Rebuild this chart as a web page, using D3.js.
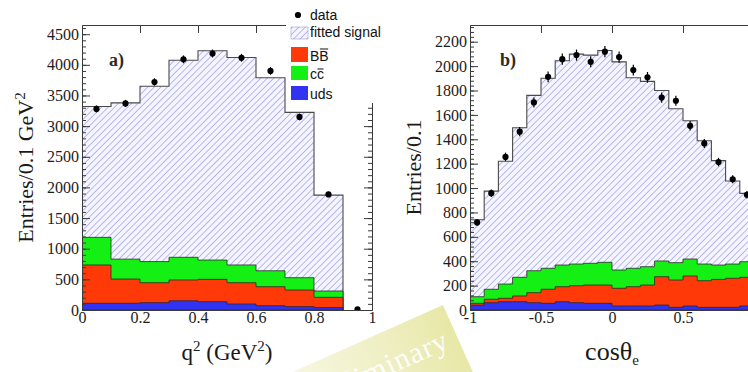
<!DOCTYPE html>
<html>
<head>
<script src="https://cdn.jsdelivr.net/npm/d3@7"></script>
<style>
	body { margin: 0; background: #fff; }
	svg text { font-family: "Liberation Serif", "Times New Roman", serif; }
	.tick text { font-size: 16px; fill: #1c1c1c; }
	.tick line, .domain { stroke: #3a3a3a; }
	.legend text { font-family: "Liberation Sans", Arial, sans-serif; font-size: 14px; fill: #111; }
</style>
</head>
<body>
<script>
// ---- panel a) q^2 distribution, bins of 0.1 GeV^2 ----
var qBins = [0, 0.1, 0.2, 0.3, 0.4, 0.5, 0.6, 0.7, 0.8];
var qWidth = 0.1;
var qUds = [110, 110, 120, 150, 135, 98, 70, 55, 40];
var qBB = [625, 395, 325, 340, 365, 347, 310, 271, 167];
var qCC = [450, 325, 345, 370, 315, 290, 260, 201, 103];
var qSig = [2135, 2550, 2860, 3215, 3415, 3385, 3150, 2698, 1565];
var qDataX = [0.05, 0.15, 0.25, 0.35, 0.45, 0.55, 0.65, 0.75, 0.85, 0.95];
var qDataY = [3280, 3370, 3720, 4090, 4185, 4115, 3900, 3150, 1885, 10];
var qYTicks = [0, 500, 1000, 1500, 2000, 2500, 3000, 3500, 4000, 4500];
var qXTicks = [0, 0.2, 0.4, 0.6, 0.8, 1];

// ---- panel b) cos theta_e distribution, bins of 0.1 ----
var cBins = [-1, -0.9, -0.8, -0.7, -0.6, -0.5, -0.4, -0.3, -0.2, -0.1, 0, 0.1, 0.2, 0.3, 0.4, 0.5, 0.6, 0.7, 0.8, 0.9];
var cWidth = 0.1;
var cUds = [40, 60, 68, 68, 60, 55, 68, 60, 55, 55, 33, 33, 33, 41, 22, 33, 22, 22, 22, 33];
var cBB = [15, 28, 28, 47, 82, 115, 123, 139, 150, 150, 145, 158, 172, 232, 224, 246, 218, 229, 238, 235];
var cCC = [54, 82, 117, 153, 180, 172, 178, 178, 178, 186, 150, 151, 150, 129, 142, 139, 137, 118, 117, 128];
var cSig = [631, 805, 1007, 1227, 1438, 1558, 1675, 1721, 1707, 1737, 1707, 1563, 1520, 1398, 1262, 1134, 1011, 856, 681, 560];
var cDataX = [-0.95, -0.85, -0.75, -0.65, -0.55, -0.45, -0.35, -0.25, -0.15, -0.05, 0.05, 0.15, 0.25, 0.35, 0.45, 0.55, 0.65, 0.75, 0.85, 0.95];
var cDataY = [718, 958, 1255, 1462, 1702, 1912, 2057, 2090, 2035, 2118, 2074, 1967, 1908, 1742, 1716, 1510, 1366, 1213, 1072, 945];
var cYTicks = [0, 200, 400, 600, 800, 1000, 1200, 1400, 1600, 1800, 2000, 2200];
var cXTicks = [-1, -0.5, 0, 0.5];

var colors = { uds: "#3232f2", bb: "#ff3a08", cc: "#14f014", sig: "url(#hatch)" };
var keys = ["uds", "bb", "cc", "sig"];

var svg = d3.select("body").append("svg")
	.attr("width", 748)
	.attr("height", 372);

var defs = svg.append("defs");
var pat = defs.append("pattern")
	.attr("id", "hatch")
	.attr("width", 4.6).attr("height", 4.6)
	.attr("patternUnits", "userSpaceOnUse")
	.attr("patternTransform", "rotate(45)");
pat.append("rect").attr("width", 4.6).attr("height", 4.6).attr("fill", "#f5f5ff");
pat.append("line").attr("x1", 0).attr("y1", 0).attr("x2", 0).attr("y2", 4.6)
	.attr("stroke", "#a8a8ea").attr("stroke-width", 1.6);

var grad = defs.append("linearGradient").attr("id", "wmark");
grad.append("stop").attr("offset", "0%").attr("stop-color", "#f4f4d6").attr("stop-opacity", 0.4);
grad.append("stop").attr("offset", "100%").attr("stop-color", "#e6e6a2").attr("stop-opacity", 0.95);

/*
* Draws one histogram panel
*/
function drawPanel(p) {
	var x = d3.scaleLinear().domain(p.xDomain).range([p.left, p.right]);
	var y = d3.scaleLinear().domain(p.yDomain).range([310, 25]);

	defs.append("clipPath").attr("id", "clip" + p.id)
		.append("rect").attr("x", p.left).attr("y", 25)
		.attr("width", p.right - p.left).attr("height", 285);

	var rows = p.bins.map(function(lo, i) {
		return { lo: lo, uds: p.uds[i], bb: p.bb[i], cc: p.cc[i], sig: p.sig[i] };
	});
	var series = d3.stack().keys(keys)(rows);

	var g = svg.append("g").attr("clip-path", "url(#clip" + p.id + ")");

	// ROOT style: cumulative histograms drawn from the biggest down
	series.slice().reverse().forEach(function(s) {
		var pts = s.map(function(d) { return [d.data.lo, d[1]]; });
		pts.push([pts[pts.length - 1][0] + p.width, pts[pts.length - 1][1]]);
		var area = d3.area()
			.x(function(d) { return x(d[0]); })
			.y0(y(0))
			.y1(function(d) { return y(d[1]); })
			.curve(d3.curveStepAfter);
		g.append("path")
			.attr("d", area(pts))
			.attr("fill", colors[s.key])
			.attr("stroke", s.key == "sig" ? "#4a4a4a" : "#2a2a2a")
			.attr("stroke-width", s.key == "sig" ? 1.1 : 0.8);
	});

	// data points with sqrt(N) errors
	p.dataX.forEach(function(dx, i) {
		var v = p.dataY[i];
		var e = Math.sqrt(v);
		g.append("line")
			.attr("x1", x(dx)).attr("x2", x(dx))
			.attr("y1", y(v - e)).attr("y2", y(v + e))
			.attr("stroke", "#000").attr("stroke-width", 1.2);
		g.append("circle")
			.attr("cx", x(dx)).attr("cy", y(v)).attr("r", 3.1)
			.attr("fill", "#000");
	});

	var minor = d3.range(p.yDomain[0], p.yDomain[1], p.yMinor);

	svg.append("g").attr("transform", "translate(" + p.left + ",0)")
		.call(d3.axisLeft(y).tickValues(p.yTicks).tickSizeInner(-8).tickSizeOuter(0).tickPadding(3).tickFormat(d3.format("d")));
	svg.append("g").attr("transform", "translate(" + p.left + ",0)")
		.call(d3.axisLeft(y).tickValues(minor).tickSizeInner(-4).tickSizeOuter(0).tickFormat(""));
	svg.append("g").attr("transform", "translate(0,25)")
		.call(d3.axisTop(x).tickValues(p.topTicks).tickSizeInner(-8).tickSizeOuter(0).tickFormat(""));
	svg.append("g").attr("transform", "translate(0,310)")
		.call(d3.axisBottom(x).tickValues(p.xTicks).tickSize(0).tickPadding(2).tickFormat(function(d) { return String(d); }));

	if (p.rightAxis) {
		svg.append("g").attr("transform", "translate(" + p.right + ",0)")
			.call(d3.axisRight(y).tickValues(p.yTicks).tickSizeInner(-8).tickSizeOuter(0).tickFormat(""));
		svg.append("g").attr("transform", "translate(" + p.right + ",0)")
			.call(d3.axisRight(y).tickValues(minor).tickSizeInner(-4).tickSizeOuter(0).tickFormat(""));
	}

	svg.append("text")
		.attr("transform", "translate(" + p.yLabelX + ",167.5) rotate(-90)")
		.attr("text-anchor", "middle")
		.attr("font-size", 22)
		.attr("fill", "#1a1a1a")
		.html(p.yLabel);

	svg.append("text")
		.attr("x", (p.left + p.right) / 2)
		.attr("y", 360)
		.attr("text-anchor", "middle")
		.attr("font-size", p.xLabelSize)
		.attr("fill", "#1a1a1a")
		.html(p.xLabel);

	svg.append("text")
		.attr("x", p.tagX).attr("y", 66)
		.attr("font-size", 18)
		.attr("font-weight", "bold")
		.attr("font-family", p.tagFont)
		.attr("fill", "#2e2a20")
		.text(p.tag);
}

drawPanel({
	id: "a", left: 82, right: 372, xDomain: [0, 1], yDomain: [0, 4650],
	bins: qBins, width: qWidth, uds: qUds, bb: qBB, cc: qCC, sig: qSig,
	dataX: qDataX, dataY: qDataY, yTicks: qYTicks, yMinor: 100,
	xTicks: qXTicks, topTicks: [0.2, 0.4, 0.6, 0.8], rightAxis: true,
	yLabelX: 33, yLabel: 'Entries/0.1 GeV<tspan dy="-8" font-size="15">2</tspan>',
	xLabelSize: 23, xLabel: 'q<tspan dy="-9" font-size="15">2</tspan><tspan dy="9"> (GeV</tspan><tspan dy="-9" font-size="15">2</tspan><tspan dy="9">)</tspan>',
	tag: "a)", tagX: 109, tagFont: "Liberation Serif"
});

drawPanel({
	id: "b", left: 470, right: 754, xDomain: [-1, 1], yDomain: [0, 2337],
	bins: cBins, width: cWidth, uds: cUds, bb: cBB, cc: cCC, sig: cSig,
	dataX: cDataX, dataY: cDataY, yTicks: cYTicks, yMinor: 40,
	xTicks: cXTicks, topTicks: [-0.5, 0, 0.5], rightAxis: false,
	yLabelX: 421, yLabel: 'Entries/0.1',
	xLabelSize: 26, xLabel: 'cosθ<tspan dy="5" font-size="15">e</tspan>',
	tag: "b)", tagX: 500, tagFont: "Liberation Sans"
});

// legend (white box over the top right corner of panel a)
var leg = svg.append("g").attr("class", "legend");
leg.append("rect").attr("x", 286).attr("y", 0).attr("width", 110).attr("height", 103).attr("fill", "#fff");
leg.append("circle").attr("cx", 298).attr("cy", 15).attr("r", 3.1).attr("fill", "#000");
leg.append("text").attr("x", 310).attr("y", 20).text("data");
leg.append("rect").attr("x", 291).attr("y", 27).attr("width", 17).attr("height", 12)
	.attr("fill", "url(#hatch)").attr("stroke", "#9c9cd4").attr("stroke-width", 0.6);
leg.append("text").attr("x", 310).attr("y", 37).text("fitted signal");

var boxes = [
	{ key: "bb", y: 47, h: 15, label: "B" },
	{ key: "cc", y: 66, h: 14, label: "c" },
	{ key: "uds", y: 86, h: 14, label: "uds" }
];
boxes.forEach(function(b) {
	leg.append("rect").attr("x", 291).attr("y", b.y).attr("width", 17).attr("height", b.h).attr("fill", colors[b.key]);
	var base = b.y + b.h - 1;
	var t1 = leg.append("text").attr("x", 310).attr("y", base).text(b.label);
	if (b.key != "uds") {
		var w = t1.node().getComputedTextLength();
		leg.append("text").attr("x", 310 + w).attr("y", base).text(b.label);
		leg.append("line")
			.attr("x1", 310 + w + 0.5).attr("x2", 310 + 2 * w - 0.5)
			.attr("y1", base - (b.label == "B" ? 12 : 10)).attr("y2", base - (b.label == "B" ? 12 : 10))
			.attr("stroke", "#111").attr("stroke-width", 1);
	}
});

// "Preliminary" watermark
var wm = svg.append("g").attr("transform", "translate(443,305) rotate(-24)");
wm.append("rect").attr("x", -230).attr("y", 0).attr("width", 230).attr("height", 80).attr("fill", "url(#wmark)");
wm.append("text").attr("x", -10).attr("y", 42)
	.attr("text-anchor", "end")
	.attr("font-family", "Liberation Sans, Arial, sans-serif")
	.attr("font-size", 30)
	.attr("letter-spacing", 1)
	.attr("fill", "#ffffff")
	.attr("fill-opacity", 0.95)
	.text("Preliminary");
</script>
</body>
</html>
